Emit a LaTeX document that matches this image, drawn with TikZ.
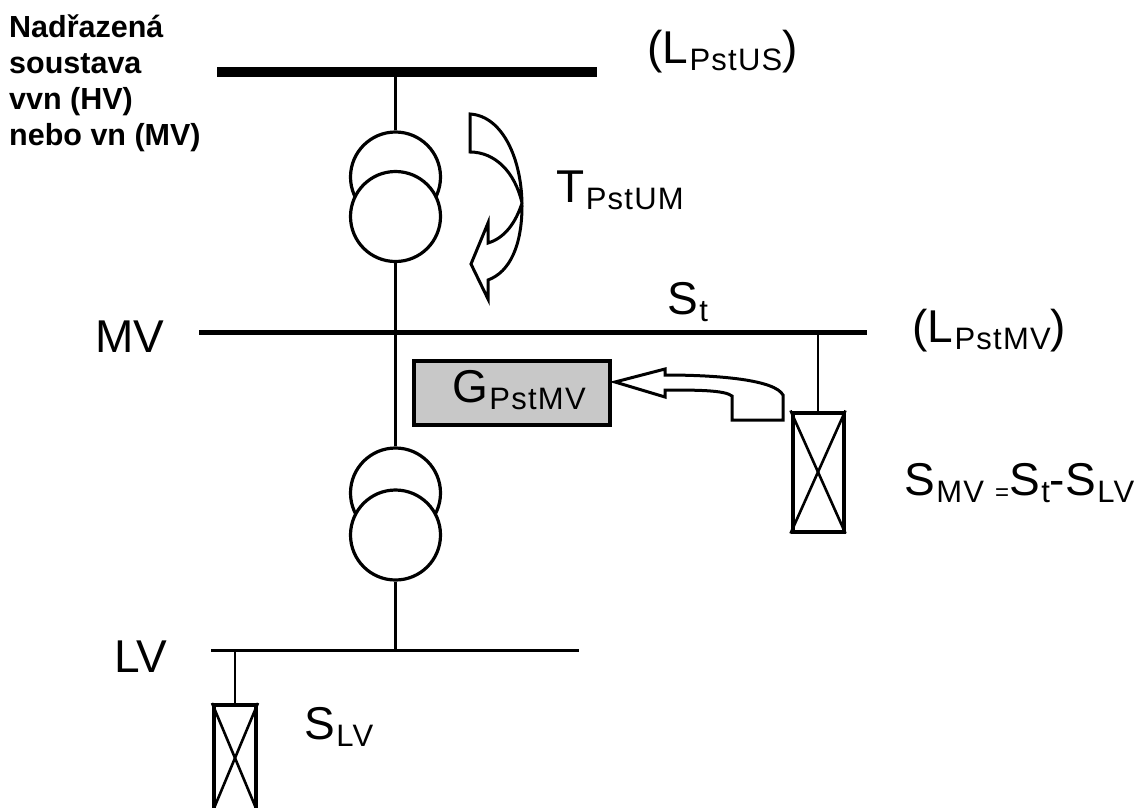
\documentclass[tikz,border=0pt]{standalone}
\usepackage{fontspec}
\setmainfont{Liberation Sans}
\newfontfamily\subfont[LetterSpace=4]{Liberation Sans}
\usepackage{xcolor}
\usetikzlibrary{positioning,calc}
\definecolor{gpGray}{HTML}{C8C8C8}
\newcommand{\lowsub}[1]{\raisebox{-7.5pt}{\subfont\fontsize{31}{33}\selectfont\kern1.5pt #1}}
\tikzset{
  bus/.style={fill=black, inner sep=0pt, minimum height=#1},
  wire/.style={line width=2.8pt, draw=black},
  trafo/.style={circle, draw=black, fill=white, line width=3.2pt, minimum size=90pt, inner sep=0pt},
  loadbox/.style={draw=black, line width=4pt, fill=white, inner sep=0pt},
  gainbox/.style={draw=black, line width=4.5pt, fill=gpGray, inner sep=0pt, minimum width=196pt, minimum height=64pt},
  flow/.style={draw=black, line width=3pt, fill=white, line join=miter},
  crossline/.style={line width=2.6pt},
  lbl/.style={inner sep=0pt, anchor=base west, font=\fontsize{46}{50}\selectfont},
  small/.style={inner sep=0pt, anchor=north west, align=left, font=\fontsize{30.5}{36}\selectfont\bfseries}
}
\begin{document}
\begin{tikzpicture}[x=1pt,y=-1pt]
  \useasboundingbox (0,0) rectangle (1144,807);
  % buses
  \node[bus=10pt, minimum width=380pt] (bushv) at (407,72) {};
  \node[bus=5pt, minimum width=668pt] (busmv) at (533,332) {};
  \node[bus=3pt, minimum width=368pt] (buslv) at (395,650) {};
  % transformers
  \node[trafo] (t1a) at (395.5,177) {};
  \node[trafo] (t1b) at (395.5,216.5) {};
  \node[trafo] (t2a) at (395.5,493) {};
  \node[trafo] (t2b) at (395.5,535) {};
  \draw[wire] (t1a.north) -- (t1a.north |- bushv);
  \draw[wire] (t1b.south) -- (t2a.north);
  \draw[wire] (t2b.south) -- (t2b.south |- buslv);
  % loads
  \node[loadbox, minimum width=51pt, minimum height=119pt] (loadmv) at (818,472) {};
  \node[loadbox, minimum width=42pt, minimum height=106pt] (loadlv) at (235,758) {};
  \draw[wire] (loadmv.north) -- (loadmv.north |- busmv);
  \draw[wire] (loadlv.north) -- (loadlv.north |- buslv);
  \draw[crossline] (loadmv.north west) -- (loadmv.south east);
  \draw[crossline] (loadmv.north east) -- (loadmv.south west);
  \draw[crossline] (loadlv.north west) -- (loadlv.south east);
  \draw[crossline] (loadlv.north east) -- (loadlv.south west);
  \node[gainbox] (gain) at (512,393) {};
  % block arrows
  \draw[flow] (470,114) .. controls (503,116) and (522,160) .. (522,206)
    .. controls (522,245) and (510,272) .. (488,280) -- (488,299) -- (471,264) -- (488,223) -- (488,243)
    .. controls (505,238) and (516,222) .. (522,203)
    .. controls (515,172) and (495,152) .. (470,152) -- cycle;
  \draw[flow] (615,382) -- (665,369) -- (665,375) .. controls (720,375) and (775,380) .. (783,395)
    -- (783,420) -- (732,420) -- (732,396) .. controls (725,390) and (695,390) .. (665,390) -- (665,397) -- cycle;
  % labels
  \node[small] (upper) at (9,15) {Nadřazená\\soustava\\vvn (HV)\\nebo vn (MV)};
  \node[lbl] (lbus) at (647,63) {(L\lowsub{PstUS})};
  \node[lbl] (ltrafo) at (556,202) {T\lowsub{PstUM}};
  \node[lbl] (lst) at (667,314) {S\lowsub{t}};
  \node[lbl] (lmv) at (95,352) {MV};
  \node[lbl] (lpmv) at (912,342) {(L\lowsub{PstMV})};
  \node[lbl] (lgain) at (452,402) {G\lowsub{PstMV}};
  \node[lbl] (lsmv) at (904,495) {S\lowsub{MV}\raisebox{-5pt}{\fontsize{24}{26}\selectfont\kern11pt=}S\lowsub{t}-S\lowsub{LV}};
  \node[lbl] (llv) at (114,672) {LV};
  \node[lbl] (lslv) at (304,739) {S\lowsub{LV}};
\end{tikzpicture}
\end{document}
